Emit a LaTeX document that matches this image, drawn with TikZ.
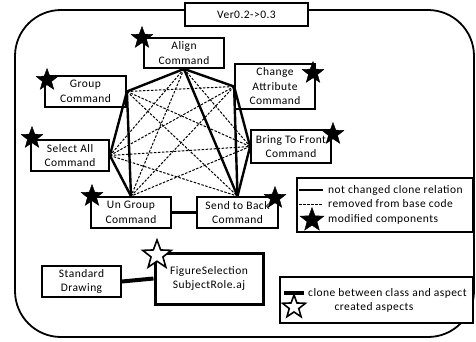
\documentclass[tikz,border=0pt]{standalone}
\usepackage{fontspec}
\setmainfont{Carlito}[LetterSpace=4]
\usetikzlibrary{shapes.geometric}
\begin{document}
\begin{tikzpicture}[x=1pt,y=-1pt,
  box/.style={draw,line width=1.8pt,fill=white,align=center,inner sep=0pt,font=\fontsize{11.5}{14.5}\selectfont},
  solidrel/.style={line width=2.4pt},
  dashrel/.style={line width=1pt,dash pattern=on 2.5pt off 1.5pt},
  fstar/.style={star,star points=5,star point ratio=2.4,fill=black,draw=black,inner sep=0pt,minimum size=23pt},
  ostar/.style={star,star points=5,star point ratio=2.4,fill=white,draw=black,line width=1.6pt,inner sep=0pt,minimum size=24pt},
  legtext/.style={anchor=west,inner sep=0pt,font=\fontsize{11.5}{14}\selectfont}]
\useasboundingbox (0,0) rectangle (476,341);
\fill[white] (0,0) rectangle (476,341);
% outer frame
\draw[line width=1.8pt,rounded corners=46pt] (15,10) rectangle (474,337);
\node[box,minimum width=123pt,minimum height=23pt] (ver) at (246.5,14.5) {Ver0.2->0.3};
% command boxes
\node[box,minimum width=80pt,minimum height=30pt] (align) at (184,53) {Align\\Command};
\node[box,minimum width=81pt,minimum height=31pt] (group) at (85.5,91.5) {Group\\Command};
\node[box,minimum width=78pt,minimum height=31pt] (select) at (70,155.5) {Select All\\Command};
\node[box,minimum width=80pt,minimum height=45pt] (change) at (275,86.5) {Change\\Attribute\\Command};
\node[box,minimum width=80pt,minimum height=33pt] (bring) at (291,146.5) {Bring To Front\\Command};
\node[box,minimum width=80pt,minimum height=31pt] (ungroup) at (131,212.5) {Un Group\\Command};
\node[box,minimum width=81pt,minimum height=31pt] (send) at (237.5,212.5) {Send to Back\\Command};
% vertices
\coordinate (A) at (align.south);
\coordinate (G) at (group.east);
\coordinate (C) at (change.west);
\coordinate (S) at (select.east);
\coordinate (B) at (bring.west);
\coordinate (U) at (ungroup.north);
\coordinate (SB) at (send.north);
% dashed relations
\foreach \p/\q in {A/S,A/B,A/U,G/C,G/B,G/SB,S/C,S/B,S/SB,C/U,B/U}
  \draw[dashrel] (\p) -- (\q);
% solid relations
\foreach \p/\q in {A/G,A/C,A/SB,G/S,G/U,S/U,C/SB,C/B,B/SB}
  \draw[solidrel,line join=round] (\p) -- (\q);
\draw[solidrel] (ungroup.east) -- (send.west);
% stars
\node[fstar] (s1) at (142,38) {};
\node[fstar] (s2) at (47,80) {};
\node[fstar] (s3) at (32,138) {};
\node[fstar] (s4) at (313,73) {};
\node[fstar] (s5) at (333,134) {};
\node[fstar] (s6) at (92,196) {};
\node[fstar] (s7) at (275,198) {};
% lower part
\node[box,minimum width=79pt,minimum height=31pt] (std) at (81.5,281.5) {Standard\\Drawing};
\node[box,line width=3pt,minimum width=108pt,minimum height=51pt] (fig) at (209,278.5) {FigureSelection\\SubjectRole.aj};
\draw[line width=4pt] (std.east) -- (fig.west);
\node[ostar,minimum size=30pt] (s8) at (157,255) {};
% legend 1
\node[draw,line width=1.8pt,fill=white,minimum width=176pt,minimum height=54pt,inner sep=0pt] (leg1) at (385,205) {};
\coordinate (l1a) at (299,190);
\coordinate (l1b) at (323,190);
\draw[solidrel] (l1a) -- (l1b);
\node[legtext] (t1) at (328,190) {not changed clone relation};
\coordinate (l2a) at (299,204);
\coordinate (l2b) at (323,204);
\draw[dashrel] (l2a) -- (l2b);
\node[legtext] (t2) at (328,204) {removed from base code};
\node[fstar,minimum size=25pt] (s9) at (312,220) {};
\node[legtext] (t3) at (328,219) {modified components};
% legend 2
\node[draw,line width=1.8pt,fill=white,minimum width=193pt,minimum height=46pt,inner sep=0pt] (leg2) at (376.5,300) {};
\coordinate (l3a) at (284,293);
\coordinate (l3b) at (304,293);
\draw[line width=4pt] (l3a) -- (l3b);
\node[legtext] (t4) at (308,293) {clone between class and aspect};
\node[ostar] (s10) at (294,307) {};
\node[inner sep=0pt,font=\fontsize{11.5}{14}\selectfont] (t5) at (374,307) {created aspects};
\end{tikzpicture}
\end{document}
